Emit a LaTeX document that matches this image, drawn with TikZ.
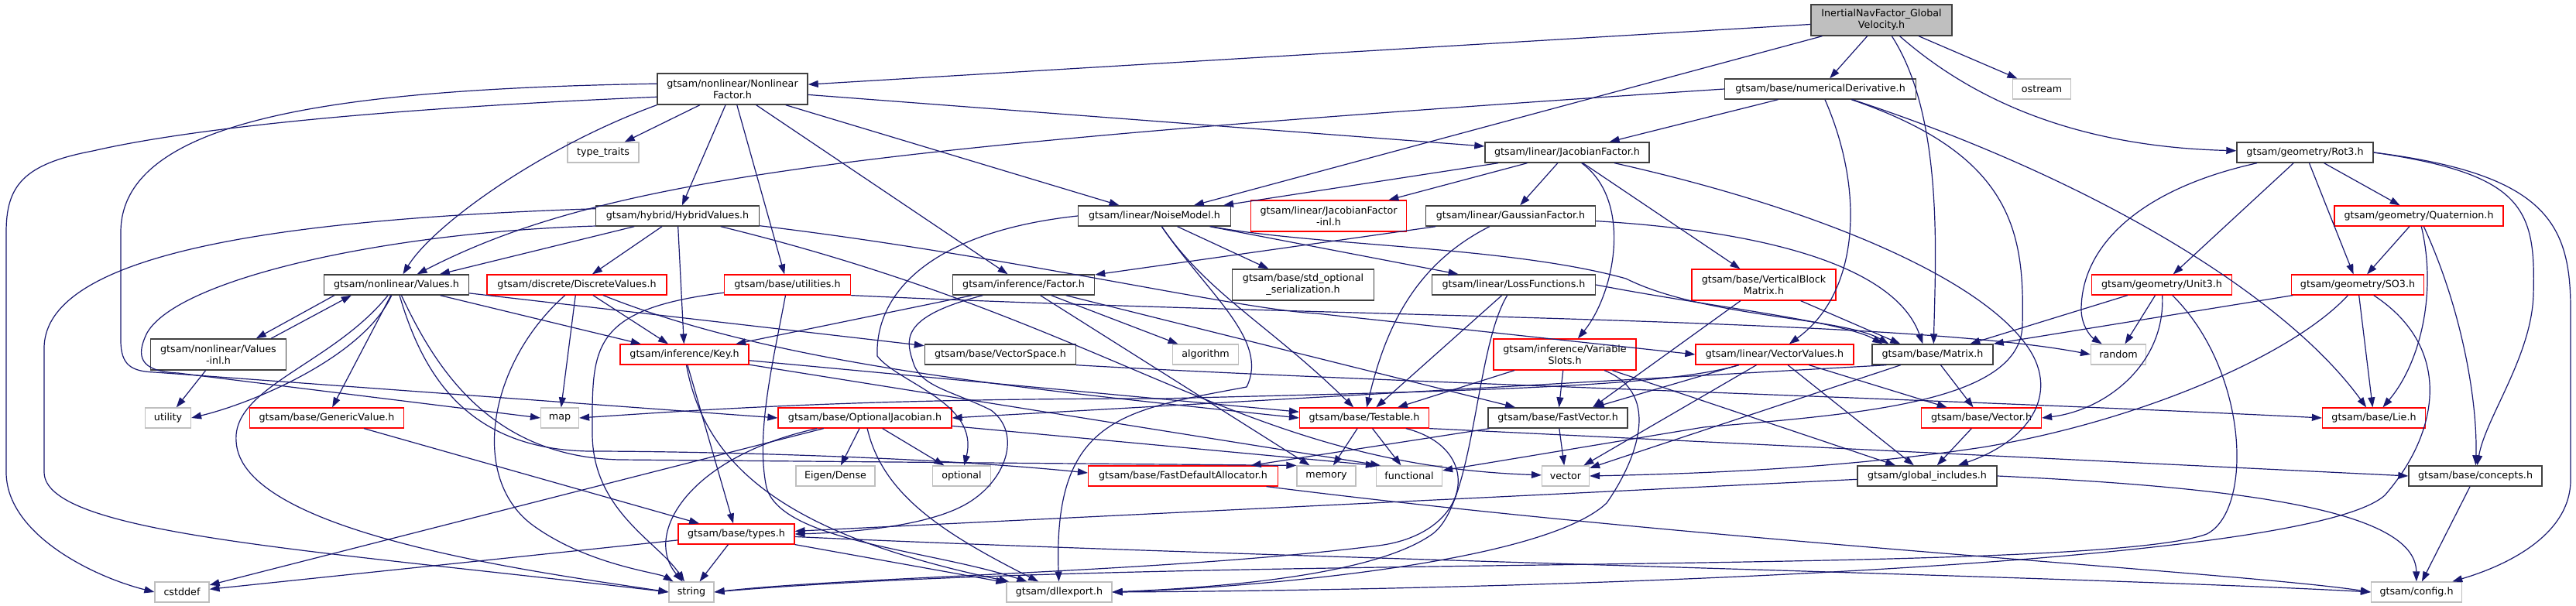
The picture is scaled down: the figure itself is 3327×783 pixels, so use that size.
\documentclass[tikz,border=0pt]{standalone}
\usepackage{fontspec}
\setmainfont{DejaVu Sans}
\usetikzlibrary{arrows.meta}
\definecolor{edgec}{HTML}{191970}
\definecolor{redc}{HTML}{FF0000}
\definecolor{grayc}{HTML}{BFBFBF}
\definecolor{darkc}{HTML}{404040}
\begin{document}
\begin{tikzpicture}[x=1pt,y=-1pt,
  every node/.style={font=\fontsize{12.7}{15}\selectfont, inner sep=0pt, align=center, minimum height=26pt},
  nb/.style={draw=darkc, line width=1.4pt},
  nr/.style={draw=redc, line width=1.2pt},
  ng/.style={draw=grayc, line width=1.2pt},
  nroot/.style={draw=darkc, line width=1.4pt, fill=grayc},
  tall/.style={minimum height=40pt},
  e/.style={draw=edgec, line width=1.2pt, -{Triangle[length=13pt,width=9pt]}}]
\fill[white] (0,0) rectangle (3327,783);
\useasboundingbox (0,0) rectangle (3327,783);

% ---------- nodes ----------
\node[nroot,tall,minimum width=182pt] (root) at (2430,26) {InertialNavFactor\_Global\\Velocity.h};
\node[nb,tall,minimum width=194pt] (NF) at (946,115) {gtsam/nonlinear/Nonlinear\\Factor.h};
\node[nb,minimum width=247pt] (ND) at (2351,115) {gtsam/base/numericalDerivative.h};
\node[ng,minimum width=75pt] (ost) at (2637,115) {ostream};
\node[ng,minimum width=92pt] (TT) at (779,197) {type\_traits};
\node[nb,minimum width=212pt] (JF) at (2024,197) {gtsam/linear/JacobianFactor.h};
\node[nb,minimum width=176pt] (Rot3) at (2977,197) {gtsam/geometry/Rot3.h};
\node[nb,minimum width=211pt] (HV) at (875,279) {gtsam/hybrid/HybridValues.h};
\node[nb,minimum width=197pt] (NM) at (1491,279) {gtsam/linear/NoiseModel.h};
\node[nr,tall,minimum width=201pt] (JFI) at (1716,279) {gtsam/linear/JacobianFactor\\-inl.h};
\node[nb,minimum width=219pt] (GF) at (1951,279) {gtsam/linear/GaussianFactor.h};
\node[nr,minimum width=218pt] (Q) at (3124,279) {gtsam/geometry/Quaternion.h};
\node[nb,minimum width=187pt] (Val) at (512,368) {gtsam/nonlinear/Values.h};
\node[nr,minimum width=232pt] (DV) at (745,368) {gtsam/discrete/DiscreteValues.h};
\node[nr,minimum width=163pt] (Util) at (1017,368) {gtsam/base/utilities.h};
\node[nb,minimum width=183pt] (Fac) at (1322,368) {gtsam/inference/Factor.h};
\node[nb,tall,minimum width=183pt] (SOS) at (1683,368) {gtsam/base/std\_optional\\\_serialization.h};
\node[nb,minimum width=211pt] (LF) at (1955,368) {gtsam/linear/LossFunctions.h};
\node[nr,tall,minimum width=186pt] (VBM) at (2278,368) {gtsam/base/VerticalBlock\\Matrix.h};
\node[nr,minimum width=181pt] (U3) at (2792,368) {gtsam/geometry/Unit3.h};
\node[nr,minimum width=171pt] (SO3) at (3045,368) {gtsam/geometry/SO3.h};
\node[nb,tall,minimum width=175pt] (VI) at (282,458) {gtsam/nonlinear/Values\\-inl.h};
\node[nr,minimum width=166pt] (Key) at (884,458) {gtsam/inference/Key.h};
\node[nb,minimum width=195pt] (VS) at (1292,458) {gtsam/base/VectorSpace.h};
\node[ng,minimum width=85pt] (alg) at (1557,458) {algorithm};
\node[nr,tall,minimum width=184pt] (VSl) at (2021,458) {gtsam/inference/Variable\\Slots.h};
\node[nr,minimum width=204pt] (VV) at (2292,458) {gtsam/linear/VectorValues.h};
\node[nb,minimum width=156pt] (Mat) at (2496,458) {gtsam/base/Matrix.h};
\node[ng,minimum width=71pt] (rnd) at (2736,458) {random};
\node[ng,minimum width=59pt] (utility) at (217,540) {utility};
\node[nr,minimum width=199pt] (GV) at (422,540) {gtsam/base/GenericValue.h};
\node[ng,minimum width=49pt] (map) at (723,540) {map};
\node[nr,minimum width=224pt] (OJ) at (1117,540) {gtsam/base/OptionalJacobian.h};
\node[nr,minimum width=167pt] (Tst) at (1762,540) {gtsam/base/Testable.h};
\node[nb,minimum width=180pt] (FV) at (2012,540) {gtsam/base/FastVector.h};
\node[nr,minimum width=155pt] (Vec) at (2559,540) {gtsam/base/Vector.h};
\node[nr,minimum width=133pt] (Lie) at (3066,540) {gtsam/base/Lie.h};
\node[ng,minimum width=102pt] (Eig) at (1079,615) {Eigen/Dense};
\node[ng,minimum width=75pt] (opt) at (1242,615) {optional};
\node[nr,minimum width=245pt] (FDA) at (1528,615) {gtsam/base/FastDefaultAllocator.h};
\node[ng,minimum width=76pt] (mem) at (1713,615) {memory};
\node[ng,minimum width=85pt] (fun) at (1820,615) {functional};
\node[ng,minimum width=61pt] (vec) at (2022,615) {vector};
\node[nb,minimum width=180pt] (GI) at (2489,615) {gtsam/global\_includes.h};
\node[nb,minimum width=172pt] (conc) at (3197,615) {gtsam/base/concepts.h};
\node[nr,minimum width=150pt] (types) at (951,690) {gtsam/base/types.h};
\node[ng,minimum width=70pt] (cstddef) at (235,765) {cstddef};
\node[ng,minimum width=58pt] (string) at (893,765) {string};
\node[ng,minimum width=136pt] (dll) at (1368,765) {gtsam/dllexport.h};
\node[ng,minimum width=117pt] (config) at (3121,765) {gtsam/config.h};

% ---------- edges ----------
% root
\draw[e] (root) -- (NF);
\draw[e] (root) -- (NM);
\draw[e] (root) -- (ND);
\draw[e] (root) -- (ost);
\draw[e] (root) .. controls (2510,150) and (2500,330) .. ([xshift=80pt]Mat.north west);
\draw[e] (root) .. controls (2560,140) and (2700,190) .. (Rot3);
% NonlinearFactor
\draw[e] (NF) -- (TT);
\draw[e] (NF.south west) .. controls (700,190) and (560,290) .. (Val);
\draw[e] (NF) -- (HV);
\draw[e] (NF) -- (Util);
\draw[e] (NF) -- (Fac);
\draw[e] (NF) -- (NM);
\draw[e] (NF) -- (JF);
\draw[e] (NF.186) .. controls (500,140) and (250,165) .. (120,195) .. controls (30,212) and (8,240) .. (8,300) -- (8,610) .. controls (8,690) and (120,745) .. (cstddef.west);
\draw[e] (NF.176) .. controls (450,115) and (156,150) .. (156,300) -- (156,440) .. controls (156,472) and (170,480) .. (200,481) -- (OJ.west);
% numericalDerivative
\draw[e] (ND) -- (JF);
\draw[e] (ND.west) .. controls (1100,190) and (780,230) .. (Val);
\draw[e] (ND) .. controls (2410,250) and (2400,380) .. (VV);
\draw[e] (ND) .. controls (2600,200) and (2615,300) .. (2612,420) .. controls (2610,520) and (2400,535) .. (2200,552) -- (fun);
\draw[e] (ND) .. controls (2700,230) and (2950,380) .. (Lie);
% Rot3
\draw[e] (Rot3) -- (U3);
\draw[e] (Rot3) -- (SO3);
\draw[e] (Rot3) -- (Q);
\draw[e] (Rot3) .. controls (2760,245) and (2688,320) .. (2688,400) .. controls (2688,420) and (2700,435) .. (rnd);
\draw[e] (Rot3.east) .. controls (3260,225) and (3275,270) .. (3272,380) .. controls (3270,460) and (3210,540) .. (conc);
\draw[e] (Rot3.east) .. controls (3290,225) and (3320,290) .. (3320,400) -- (3320,620) .. controls (3320,690) and (3240,730) .. (config);
% JacobianFactor
\draw[e] (JF) -- (NM);
\draw[e] (JF) -- (JFI);
\draw[e] (JF) -- (GF);
\draw[e] (JF) .. controls (2110,260) and (2085,380) .. (VSl);
\draw[e] (JF) -- (VBM);
\draw[e] (JF) .. controls (2350,270) and (2560,360) .. (2620,450) .. controls (2660,510) and (2620,570) .. (GI);
% HybridValues
\draw[e] (HV) -- (Val);
\draw[e] (HV) -- (DV);
\draw[e] (HV) -- (Key);
\draw[e] (HV) .. controls (1300,330) and (1600,400) .. (1700,405) -- (VV.west);
\draw[e] (HV.187) .. controls (500,300) and (230,360) .. (190,430) .. controls (175,460) and (180,480) .. (230,482) -- (map.west);
\draw[e] (HV.175) .. controls (400,282) and (57,320) .. (57,450) -- (57,610) .. controls (57,690) and (400,710) .. (string.west);
\draw[e] (HV) .. controls (1450,420) and (1600,600) .. (vec);
% NoiseModel
\draw[e] (NM) -- (SOS);
\draw[e] (NM) -- (LF);
\draw[e] (NM) .. controls (1700,318) and (1950,318) .. (2100,360) .. controls (2200,410) and (2380,410) .. ([xshift=22pt]Mat.north west);
\draw[e] (NM) .. controls (1560,380) and (1640,420) .. (Tst);
\draw[e] (NM.west) .. controls (1200,300) and (1130,380) .. (1133,460) .. controls (1160,495) and (1265,520) .. (opt);
\draw[e] (NM) .. controls (1560,380) and (1640,440) .. (1610,500) .. controls (1450,530) and (1360,540) .. (dll);
% GaussianFactor
\draw[e] (GF) -- (Fac);
\draw[e] (GF) .. controls (1830,340) and (1790,420) .. (Tst);
\draw[e] (GF) .. controls (2300,300) and (2450,350) .. ([xshift=66pt]Mat.north west);
% Quaternion
\draw[e] (Q) -- (SO3);
\draw[e] (Q) .. controls (3148,380) and (3125,470) .. (Lie);
\draw[e] (Q) .. controls (3180,400) and (3200,520) .. (conc);
% Values
\draw[e] ([xshift=14pt]Val.south west) -- ([xshift=137pt]VI.north west);
\draw[e] ([xshift=-20pt]VI.north east) -- ([xshift=36pt]Val.south west);
\draw[e] (Val) .. controls (470,460) and (330,520) .. (utility.east);
\draw[e] (Val) -- (GV);
\draw[e] (Val) -- (Key);
\draw[e] (Val) -- (VS);
\draw[e] (Val) .. controls (545,480) and (600,580) .. (760,583) .. controls (900,583) and (1200,590) .. ([yshift=4pt]FDA.west);
\draw[e] (Val) .. controls (560,470) and (630,590) .. (800,594) -- (mem.north west);
\draw[e] (Val) .. controls (430,470) and (300,500) .. (305,570) .. controls (310,690) and (700,740) .. (string.west);
% Values-inl
\draw[e] (VI) -- (utility);
% DiscreteValues
\draw[e] (DV) .. controls (630,470) and (605,620) .. (690,680) .. controls (760,730) and (850,740) .. (string);
\draw[e] (DV) -- (map);
\draw[e] (DV) -- (Key);
\draw[e] (DV) .. controls (1000,470) and (1300,500) .. (Tst.west);
% utilities
\draw[e] (Util) .. controls (760,400) and (765,450) .. (765,560) .. controls (765,660) and (850,700) .. (string);
\draw[e] (Util) .. controls (1000,460) and (975,560) .. (990,630) .. controls (1010,700) and (1200,710) .. (dll);
\draw[e] (Util.south east) .. controls (1700,410) and (2450,410) .. (rnd.west);
% Factor
\draw[e] (Fac) -- (Key);
\draw[e] (Fac) -- (alg);
\draw[e] (Fac) -- (mem);
\draw[e] (Fac) -- (FV);
\draw[e] (Fac) .. controls (1160,410) and (1170,440) .. (1180,470) .. controls (1190,500) and (1230,505) .. (1280,530) .. controls (1320,560) and (1300,620) .. (1250,650) .. controls (1200,680) and (1100,688) .. (types.east);
% LossFunctions
\draw[e] (LF) -- (Tst);
\draw[e] (LF) .. controls (1905,450) and (1905,650) .. (1850,690) .. controls (1780,740) and (1600,758) .. (dll.east);
\draw[e] (LF.east) .. controls (2200,395) and (2380,415) .. ([xshift=14pt]Mat.north west);
% VerticalBlockMatrix
\draw[e] (VBM) -- ([xshift=37pt]Mat.north west);
\draw[e] ([xshift=-30pt]VBM.south) -- ([xshift=45pt]FV.north);
% Unit3
\draw[e] (U3) -- ([xshift=127pt]Mat.north west);
\draw[e] (U3) -- (rnd);
\draw[e] (U3) .. controls (2797,470) and (2720,530) .. (Vec.east);
\draw[e] (U3) .. controls (2905,480) and (2910,660) .. (2850,690) .. controls (2700,745) and (1500,715) .. (string.east);
% SO3
\draw[e] (SO3) -- (Mat.north east);
\draw[e] (SO3) -- (Lie);
\draw[e] (SO3) .. controls (2960,460) and (2760,545) .. (2560,578) .. controls (2380,605) and (2200,612) .. (vec.east);
\draw[e] (SO3) .. controls (3170,450) and (3150,560) .. (3080,640) .. controls (2980,730) and (2000,762) .. (dll.east);
% VariableSlots
\draw[e] (VSl) -- (Tst);
\draw[e] (VSl) -- (FV);
\draw[e] (VSl) .. controls (2150,510) and (2110,600) .. (2075,650) .. controls (1990,730) and (1600,760) .. (dll.east);
\draw[e] (VSl) -- (GI);
% Key
\draw[e] (Key) -- (Tst);
\draw[e] (Key) -- (types);
\draw[e] (Key) .. controls (910,600) and (1010,690) .. (dll);
\draw[e] (Key) -- ([xshift=6pt]fun.north west);
% VectorSpace
\draw[e] (VS.south east) .. controls (1800,495) and (2500,515) .. (Lie.west);
% OptionalJacobian
\draw[e] (OJ) -- (Eig);
\draw[e] (OJ) -- (opt);
\draw[e] (OJ) -- (cstddef);
\draw[e] (OJ) .. controls (890,590) and (830,690) .. (string);
\draw[e] (OJ) .. controls (1140,640) and (1220,690) .. (dll);
\draw[e] (OJ) -- (fun.north west);
% GenericValue
\draw[e] (GV) -- (types);
% Testable
\draw[e] (Tst) -- (mem);
\draw[e] (Tst) -- (fun);
\draw[e] (Tst.south east) -- (conc.west);
\draw[e] (Tst) .. controls (1920,580) and (1900,690) .. (1780,705) .. controls (1500,740) and (1100,745) .. (string.east);
% FastVector
\draw[e] (FV) -- (vec);
\draw[e] (FV) -- (FDA);
% FastDefaultAllocator
\draw[e] (FDA) .. controls (2200,700) and (2900,740) .. (config.west);
% VectorValues
\draw[e] (VV) -- (GI);
\draw[e] (VV) -- (Vec);
\draw[e] (VV) -- (FV);
\draw[e] (VV) -- (vec);
\draw[e] (VV) .. controls (2150,500) and (1900,505) .. (1500,515) .. controls (1100,515) and (900,530) .. (map.east);
% Matrix
\draw[e] (Mat) -- (Vec);
\draw[e] ([xshift=19pt]Mat.south west) -- (OJ.east);
\draw[e] (Mat) -- (vec);
% Vector
\draw[e] (Vec) -- (GI);
% global_includes
\draw[e] (GI) -- (types);
\draw[e] (GI.east) .. controls (2900,630) and (3120,660) .. (config);
% types
\draw[e] (types) -- (string);
\draw[e] (types) -- (cstddef);
\draw[e] (types) -- (dll);
\draw[e] (types) .. controls (1600,720) and (2700,745) .. (config.west);
% concepts
\draw[e] (conc) -- (config);
\end{tikzpicture}
\end{document}
